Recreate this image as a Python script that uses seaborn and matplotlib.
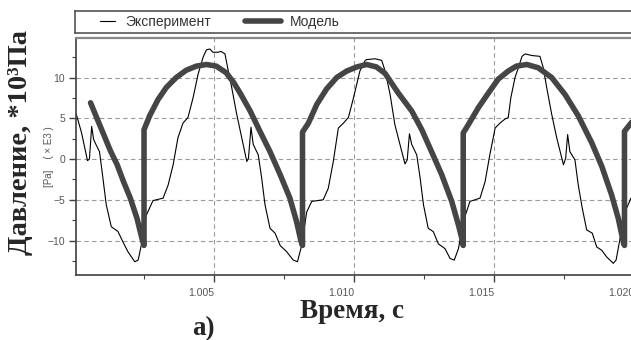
import numpy as np
import pandas as pd
import matplotlib
matplotlib.use("Agg")
import matplotlib.pyplot as plt
import seaborn as sns
from matplotlib.ticker import MultipleLocator, FormatStrFormatter

# ---- data (time offset in ms after 1.000 s, pressure in kPa) ----
exp_ms = [0.08, 0.27, 0.48, 0.55, 0.63, 0.70, 0.78, 0.91, 1.03, 1.15, 1.33, 1.57,
          1.75, 1.93, 2.17, 2.29, 2.40, 2.58, 2.82, 3.18, 3.36, 3.54, 3.71, 3.89,
          4.07, 4.25, 4.43, 4.61, 4.73, 4.85, 4.96, 5.14, 5.25, 5.39, 5.51, 5.63,
          5.81, 5.99, 6.17, 6.23, 6.32, 6.40, 6.58, 6.70, 6.82, 7.00, 7.18, 7.36,
          7.60, 7.83, 7.98, 8.13, 8.31, 8.49, 8.90, 9.08, 9.26, 9.44, 9.62, 9.80,
          9.98, 10.21, 10.40, 10.45, 10.75, 10.99, 11.11, 11.29, 11.46, 11.64, 11.82,
          11.90, 11.98, 12.06, 12.24, 12.36, 12.48, 12.65, 12.83, 13.01, 13.25, 13.43,
          13.58, 13.73, 13.90, 14.14, 14.50, 14.68, 14.85, 15.04, 15.21, 15.39, 15.51,
          15.60, 15.75, 15.87, 16.00, 16.11, 16.35, 16.64, 16.76, 16.88, 17.06, 17.24,
          17.48, 17.56, 17.63, 17.71, 17.89, 18.01, 18.15, 18.31, 18.51, 18.67, 18.85,
          19.02, 19.26, 19.36, 19.50, 19.68, 19.89, 20.05]
exp_val = [5.5, 3.2, -0.2, 0.0, 4.0, 2.4, 1.8, 0.9, -2.3, -5.6, -8.3, -8.9,
           -10.2, -11.4, -12.6, -12.4, -10.6, -6.9, -5.1, -4.8, -3.2, -0.7, 2.6, 4.4,
           5.1, 7.5, 10.4, 12.5, 13.4, 13.5, 13.1, 13.1, 13.2, 12.9, 10.8, 8.8,
           5.5, 2.6, -0.3, 0.1, 3.9, 1.8, 0.5, -2.3, -5.6, -8.5, -9.1, -10.6,
           -11.4, -12.4, -12.6, -10.6, -6.5, -5.2, -5.0, -3.6, -0.3, 3.8, 4.4, 5.1,
           7.5, 10.8, 12.1, 12.2, 12.3, 12.1, 10.8, 7.9, 4.2, 1.8, -0.6,
           -0.1, 3.1, 1.8, 0.5, -2.3, -5.6, -8.5, -8.9, -10.4, -11.0, -12.2,
           -12.4, -11.0, -7.7, -5.2, -4.8, -2.8, 0.5, 3.8, 4.4, 4.9, 5.1,
           7.5, 10.0, 11.2, 12.6, 12.9, 12.7, 12.6, 11.2, 8.8, 5.5, 2.6,
           -0.7, 0.1, 3.0, 0.9, -0.1, -3.2, -6.0, -8.7, -9.1, -10.8, -11.2,
           -12.0, -12.8, -12.4, -9.8, -6.5, -4.8, -4.6]

mod_ms = [0.59, 0.83, 1.06, 1.30, 1.54, 1.77, 2.01, 2.25, 2.43, 2.50, 2.50,
          2.70, 3.00, 3.30, 3.65, 4.01, 4.37, 4.73, 5.08, 5.43, 5.70, 5.93, 6.29,
          6.64, 7.00, 7.36, 7.71, 7.95, 8.10, 8.16, 8.16,
          8.37, 8.67, 9.02, 9.38, 9.74, 10.10, 10.45, 10.80, 11.11, 11.58, 12.06,
          12.42, 12.77, 13.13, 13.49, 13.73, 13.87, 13.90, 13.90,
          14.08, 14.44, 14.80, 15.15, 15.51, 15.80, 16.17, 16.58, 17.06, 17.54,
          18.01, 18.49, 18.85, 19.20, 19.44, 19.62, 19.66, 19.66, 19.89, 20.05]
mod_val = [6.9, 4.9, 3.0, 1.0, -0.7, -2.8, -4.8, -7.3, -9.8, -10.6, 3.6,
           5.3, 7.3, 8.8, 10.0, 10.9, 11.4, 11.6, 11.4, 10.6, 9.4, 8.1, 5.9,
           3.4, 0.9, -1.9, -4.8, -7.7, -10.0, -10.6, 3.3,
           4.4, 6.7, 8.6, 10.0, 10.8, 11.3, 11.6, 11.3, 10.5, 8.1, 5.9,
           3.6, 0.9, -1.9, -5.2, -8.1, -10.0, -10.6, 3.2,
           4.2, 6.3, 8.1, 9.8, 10.8, 11.4, 11.6, 11.2, 10.0, 7.9,
           5.3, 2.0, -0.9, -4.4, -7.3, -10.2, -10.6, 3.4, 4.4, 5.0]

x_major = [1.005, 1.010, 1.015, 1.020]
y_major = [-10, -5, 0, 5, 10]
legend_labels = ["Эксперимент", "Модель"]

# ---- style ----
sns.set_style("white")
plt.rcParams['font.family'] = ['Liberation Sans', 'DejaVu Sans']

W, H = 631, 340
fig = plt.figure(figsize=(W / 100, H / 100), dpi=100)
ax = fig.add_axes([76 / W, (H - 275) / H, 558 / W, 237 / H])

exp_df = pd.DataFrame({"t": 1.0 + np.array(exp_ms) / 1000.0, "p": exp_val})
mod_df = pd.DataFrame({"t": 1.0 + np.array(mod_ms) / 1000.0, "p": mod_val})

sns.lineplot(data=exp_df, x="t", y="p", estimator=None, sort=False,
             color="black", linewidth=0.8, ax=ax, legend=False)
sns.lineplot(data=mod_df, x="t", y="p", estimator=None, sort=False,
             color="#454545", linewidth=4.0, ax=ax, legend=False)
h_exp, h_mod = ax.lines[0], ax.lines[1]

ax.set_xlim(1.00007, 1.0200)
ax.set_ylim(-14.23, 14.85)
ax.set_xticks(x_major)
ax.set_yticks(y_major)
ax.xaxis.set_major_formatter(FormatStrFormatter('%.3f'))
ax.xaxis.set_minor_locator(MultipleLocator(0.0025))
ax.yaxis.set_minor_locator(MultipleLocator(2.5))
ax.set_xlabel("")
ax.set_ylabel("")

ax.grid(True, which='major', color='#9a9a9a', linestyle=(0, (4, 3)), linewidth=0.8)
ax.set_axisbelow(True)

ax.tick_params(which='both', bottom=True, left=True, direction='out',
               color='#404040', labelcolor='#555555', labelsize=7.5)
ax.tick_params(which='major', length=5, width=1)
ax.tick_params(which='minor', length=3, width=0.8)
ax.tick_params(axis='x', pad=4)
ax.tick_params(axis='y', pad=3)
for lbl in ax.get_xticklabels():
    lbl.set_horizontalalignment('right')

for side in ['left', 'bottom']:
    ax.spines[side].set_color('#404040')
    ax.spines[side].set_linewidth(1.2)
ax.spines['top'].set_color('#888888')
ax.spines['top'].set_linewidth(1.6)
ax.spines['right'].set_visible(False)

# ---- legend box ----
lax = fig.add_axes([75 / W, (H - 33) / H, 600 / W, 22 / H])
lax.set_xticks([])
lax.set_yticks([])
for s in lax.spines.values():
    s.set_color('#555555')
    s.set_linewidth(1.2)
leg1 = lax.legend([h_exp], [legend_labels[0]], loc='center left',
                  bbox_to_anchor=((100 - 75) / 600, 0.5), frameon=False,
                  handlelength=1.1, handletextpad=0.7, borderpad=0,
                  borderaxespad=0, fontsize=10, labelcolor='#333333')
lax.add_artist(leg1)
leg2 = lax.legend([h_mod], [legend_labels[1]], loc='center left',
                  bbox_to_anchor=((245 - 75) / 600, 0.5), frameon=False,
                  handlelength=2.6, handletextpad=0.65, borderpad=0,
                  borderaxespad=0, fontsize=10, labelcolor='#333333')

# ---- texts ----
serif = ['Liberation Serif', 'DejaVu Serif']
fig.text(21 / W, 1 - 142 / H, "Давление, *10³Па", rotation=90, ha='center',
         va='center', fontsize=20.5, fontweight='bold', family=serif)
fig.text(49 / W, 1 - 157 / H, "[Pa]    ( × E3 )", rotation=90, ha='center',
         va='center', fontsize=7, color='#555555')
fig.text(352 / W, 1 - 318 / H, "Время, с", ha='center', va='baseline',
         fontsize=19.5, fontweight='bold', family=serif)
fig.text(203 / W, 1 - 335 / H, "а)", ha='center', va='baseline',
         fontsize=19.5, fontweight='bold', family=serif)

fig.savefig("out.png", dpi=100)
